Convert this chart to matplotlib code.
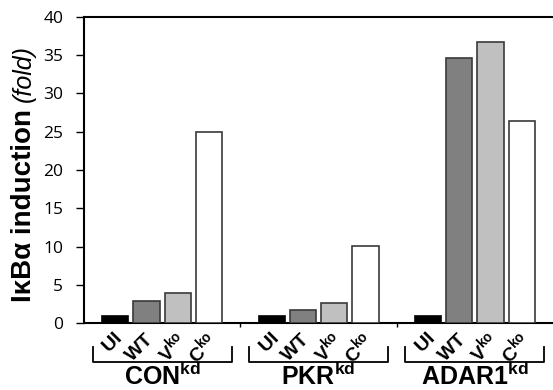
import matplotlib
matplotlib.use("Agg")
import matplotlib.pyplot as plt
import matplotlib.transforms as mtransforms

plt.rcParams["mathtext.fontset"] = "custom"
plt.rcParams["mathtext.rm"] = "Liberation Sans"
plt.rcParams["mathtext.bf"] = "Liberation Sans:bold"
plt.rcParams["mathtext.it"] = "Liberation Sans:italic"

groups = [r"$\mathbf{CON^{kd}}$", r"$\mathbf{PKR^{kd}}$", r"$\mathbf{ADAR1^{kd}}$"]
conditions = [r"$\mathbf{UI}$", r"$\mathbf{WT}$", r"$\mathbf{V^{ko}}$", r"$\mathbf{C^{ko}}$"]
ui = [1.0, 1.0, 1.0]
wt = [2.9, 1.7, 34.6]
vko = [3.9, 2.7, 36.7]
cko = [24.9, 10.1, 26.4]
yticks = [0, 5, 10, 15, 20, 25, 30, 35, 40]

colors = ["black", "#808080", "#c0c0c0", "white"]
edges = ["black", "#3a3a3a", "#3a3a3a", "#3a3a3a"]
series = [ui, wt, vko, cko]

fig = plt.figure(figsize=(5.53, 3.9), dpi=100)
ax = fig.add_axes([0.152, 0.171, 0.848, 0.786])

gstep = 5
xpos, xlab = [], []
for i, vals in enumerate(series):
    xs = [g * gstep + i for g in range(len(groups))]
    ax.bar(xs, vals, width=0.84, color=colors[i], edgecolor=edges[i], linewidth=1.2, zorder=3)
    xpos += xs
    xlab += [conditions[i]] * len(groups)

ax.set_xlim(-1, 14)
ax.set_ylim(0, 40)
ax.set_yticks(yticks)
ax.set_yticklabels([str(v) for v in yticks], fontfamily="Open Sans", fontsize=12.5)
ax.tick_params(axis="y", direction="out", length=6, width=1, pad=9)

ax.set_xticks(xpos)
ax.set_xticklabels(xlab, rotation=45, ha="right", va="center", rotation_mode="anchor", fontsize=14)
ax.tick_params(axis="x", which="major", length=0, pad=9)
shift = mtransforms.ScaledTranslation(4 / 100, 0, fig.dpi_scale_trans)
for lab in ax.get_xticklabels():
    lab.set_transform(lab.get_transform() + shift)
ax.set_xticks([4, 9], minor=True)
ax.tick_params(axis="x", which="minor", direction="out", length=3, width=1)

for s in ["left", "bottom", "top"]:
    ax.spines[s].set_linewidth(1.5)
ax.spines["right"].set_visible(False)

# brackets under the tick labels
trans = mtransforms.blended_transform_factory(ax.transData, fig.transFigure)
y_top = 1 - 347 / 390
y_bot = 1 - 362 / 390
for g, name in enumerate(groups):
    x0 = g * gstep - 0.72
    x1 = g * gstep + 3.72
    ax.plot([x0, x0, x1, x1], [y_top, y_bot, y_bot, y_top], color="black", lw=1.3,
            transform=trans, clip_on=False)
    ax.text(g * gstep + 1.5, 1 - 385 / 390, name, transform=trans, ha="center",
            va="baseline", fontsize=18)

# y label: bold part + italic part
t1 = fig.text(31 / 553, 1 - 302 / 390, "IκBα induction", rotation=90, rotation_mode="anchor",
              ha="left", va="baseline", fontfamily="Liberation Sans", fontweight="bold", fontsize=20)
fig.canvas.draw()
bb = t1.get_window_extent(fig.canvas.get_renderer())
fig.text(31 / 553, (bb.y1 + 7) / 390, "(fold)", rotation=90, rotation_mode="anchor",
         ha="left", va="baseline", fontfamily="Liberation Sans", fontstyle="italic", fontsize=18)

fig.savefig("out.png", dpi=100)
